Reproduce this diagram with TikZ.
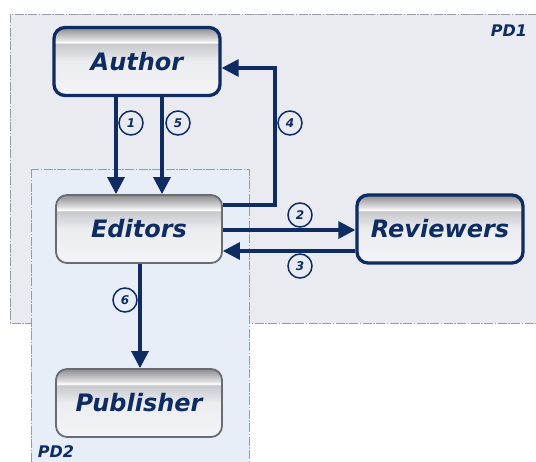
\documentclass[tikz,border=0pt]{standalone}
\usepackage{fontspec}
\setmainfont{DejaVu Sans}
\usetikzlibrary{arrows.meta,shapes.geometric}
\definecolor{navy}{RGB}{14,44,98}
\definecolor{pdone}{RGB}{233,235,240}
\definecolor{pdtwo}{RGB}{231,238,247}
\definecolor{pdline}{RGB}{150,155,165}
\definecolor{boxgray}{RGB}{105,108,114}
\definecolor{sbot}{RGB}{243,244,247}
\definecolor{smid}{RGB}{236,237,240}
\definecolor{sdark}{RGB}{198,200,204}
\definecolor{slite}{RGB}{224,224,226}
\definecolor{stop}{RGB}{140,140,142}
\pgfdeclareverticalshading{boxshade}{100bp}{color(0bp)=(sbot); color(25bp)=(sbot); color(50bp)=(smid); color(63bp)=(sdark); color(64bp)=(white); color(66bp)=(slite); color(75bp)=(stop); color(100bp)=(stop)}
\tikzset{
  procbox/.style={rounded corners=11pt, shading=boxshade, minimum width=166pt, minimum height=68pt,
    font=\fontsize{24}{28}\selectfont\bfseries\itshape, text=navy, inner sep=0pt},
  navybox/.style={procbox, draw=navy, line width=3.3pt},
  graybox/.style={procbox, draw=boxgray, line width=1.8pt},
  arr/.style={draw=navy, line width=3.2pt, -{Triangle[length=17pt,width=17pt]}},
  num/.style={circle, draw=navy, line width=1.5pt, minimum size=24pt, inner sep=0pt,
    font=\fontsize{12}{13}\selectfont\bfseries\itshape, text=navy},
  pdrect/.style={draw=pdline, line width=1pt, dash pattern=on 9pt off 1.5pt on 1.5pt off 1.5pt},
  pdlabel/.style={font=\fontsize{16}{18}\selectfont\bfseries\itshape, text=navy, inner sep=0pt}
}
\begin{document}
\begin{tikzpicture}[x=1pt,y=-1pt]
\useasboundingbox (0,0) rectangle (536,461);
\clip (0,0) rectangle (536,461);
\fill[white] (0,0) rectangle (536,461);
% PD1
\fill[pdone] (10,14) rectangle (545,323);
\draw[pdrect] (10,14) rectangle (545,323);
\node[pdlabel] (pd1) at (509,31) {PD1};
% PD2
\fill[pdtwo] (31,169) rectangle (249,475);
\draw[pdrect] (31,169) rectangle (249,475);
\node[pdlabel] (pd2) at (56,452) {PD2};
% boxes
\node[navybox] (author) at (137,61.5) {Author};
\node[graybox] (editors) at (139,229) {Editors};
\node[graybox] (publisher) at (139,403) {Publisher};
\node[navybox] (reviewers) at (440,229) {Reviewers};
% coordinates
\coordinate (c1) at (116,0);
\coordinate (c5) at (162,0);
\coordinate (k1) at (275,205);
\coordinate (k2) at (275,68);
\coordinate (c2) at (0,230);
\coordinate (c3) at (0,251);
\coordinate (c6) at (140,0);
% connectors
\draw[arr] (c1 |- author.south) -- (c1 |- editors.north);
\draw[arr] (c5 |- author.south) -- (c5 |- editors.north);
\draw[arr] (editors.east |- k1) -- (k1) -- (k2) -- (author.east |- k2);
\draw[arr] (editors.east |- c2) -- (reviewers.west |- c2);
\draw[arr] (reviewers.west |- c3) -- (editors.east |- c3);
\draw[arr] (c6 |- editors.south) -- (c6 |- publisher.north);
% numbers
\node[num] (n1) at (131,123) {1};
\node[num] (n5) at (178,123) {5};
\node[num] (n4) at (290,123) {4};
\node[num] (n2) at (300,215) {2};
\node[num] (n3) at (300,266) {3};
\node[num] (n6) at (125,300) {6};
\end{tikzpicture}
\end{document}
